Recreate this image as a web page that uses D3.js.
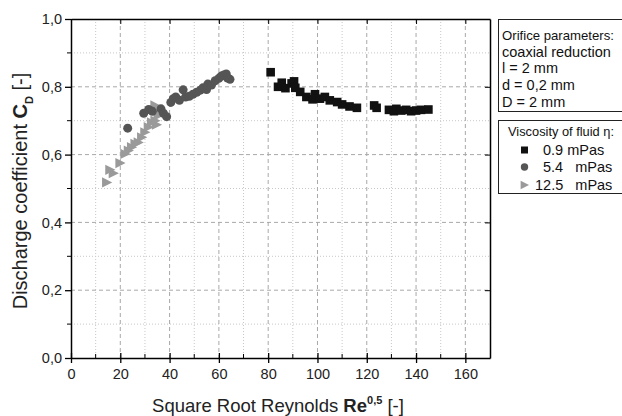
<!DOCTYPE html>
<html lang="en">
<head>
  <meta charset="UTF-8">
  <title>Discharge coefficient vs square root Reynolds</title>
  <style>
    body { margin: 0; background: #fff; font-family: "Liberation Sans", Arial, sans-serif; }
    .grid-major { stroke: #a8a8a8; stroke-dasharray: 4,3; }
    .grid-minor { stroke: #c8c8c8; stroke-dasharray: 1,2; }
    .tick-label { font-size: 14.5px; fill: #222; }
  </style>
</head>
<body>
  <svg width="622" height="416"></svg>
  <script src="https://d3js.org/d3.v7.min.js"></script>
  <script>
    // 0.9 mPas  [sqrt(Re), Cd]
    const water = [
      [81, 0.843], [84, 0.800], [85.5, 0.812], [87, 0.796], [89.5, 0.810], [90.5, 0.816],
      [91, 0.797], [93, 0.785], [95.5, 0.770], [98, 0.763], [99, 0.778], [101, 0.765],
      [103, 0.770], [105, 0.760], [108, 0.755], [110, 0.748], [113, 0.742], [116, 0.738],
      [123, 0.745], [124, 0.738], [129, 0.732], [131, 0.728], [132, 0.735], [134, 0.730],
      [136, 0.732], [138, 0.728], [140, 0.730], [142, 0.732], [145, 0.733]
    ];
    // 5.4 mPas
    const mid = [
      [23, 0.678], [29.5, 0.722], [31.5, 0.733], [33, 0.728], [36.5, 0.735], [37.5, 0.722],
      [38.8, 0.712], [40.5, 0.754], [41.5, 0.765], [42.5, 0.770], [44, 0.760], [45.5, 0.791],
      [46.5, 0.770], [48, 0.772], [49.5, 0.778], [51, 0.784], [52.5, 0.790], [53.5, 0.797],
      [55, 0.792], [55.5, 0.808], [57, 0.805], [58.5, 0.818], [60, 0.825], [61, 0.832],
      [62, 0.835], [63, 0.838], [63.5, 0.826], [64.5, 0.822]
    ];
    // 12.5 mPas
    const thick = [
      [14.5, 0.518], [15.8, 0.555], [17.2, 0.545], [19.9, 0.575], [21.9, 0.602], [23.3, 0.612],
      [24.6, 0.622], [26, 0.632], [27.3, 0.636], [28.7, 0.651], [30, 0.666], [31.4, 0.681],
      [32.7, 0.695], [34.1, 0.700], [34.7, 0.688], [35.4, 0.715], [34.1, 0.745], [36.5, 0.730]
    ];

    const seriesNames = ["0.9 mPas", "5.4   mPas", "12.5   mPas"];
    const paramLines = ["Orifice parameters:", "coaxial reduction", "l = 2 mm", "d = 0,2 mm", "D = 2 mm"];
    const xTicks = [0, 20, 40, 60, 80, 100, 120, 140, 160];
    const yTicks = [0, 0.2, 0.4, 0.6, 0.8, 1.0];

    const pL = 71, pR = 490, pT = 19, pB = 358;
    const svg = d3.select("svg");

    const x = d3.scaleLinear().domain([0, 170]).range([pL, pR]);
    const y = d3.scaleLinear().domain([0, 1]).range([pB, pT]);

    const xMinor = d3.range(10, 170, 20);
    const yMinor = d3.range(0.1, 1, 0.2);

    // grid
    const grid = svg.append("g");
    grid.selectAll(".gx").data(xMinor).join("line").attr("class", "grid-minor")
      .attr("x1", d => x(d)).attr("x2", d => x(d)).attr("y1", pT).attr("y2", pB);
    grid.selectAll(".gy").data(yMinor).join("line").attr("class", "grid-minor")
      .attr("x1", pL).attr("x2", pR).attr("y1", d => y(d)).attr("y2", d => y(d));
    grid.selectAll(".gX").data(xTicks.slice(1)).join("line").attr("class", "grid-major")
      .attr("x1", d => x(d)).attr("x2", d => x(d)).attr("y1", pT).attr("y2", pB);
    grid.selectAll(".gY").data(yTicks.slice(1, -1)).join("line").attr("class", "grid-major")
      .attr("x1", pL).attr("x2", pR).attr("y1", d => y(d)).attr("y2", d => y(d));

    const fmt = d => d3.format(".1f")(d).replace(".", ",");

    // bottom axis, major ticks cross the line
    svg.append("g").attr("transform", `translate(0,${pB})`)
      .call(d3.axisBottom(x).tickValues(xTicks).tickSize(5).tickSizeOuter(0).tickPadding(6))
      .call(g => g.selectAll("text").attr("class", "tick-label"))
      .call(g => g.selectAll(".tick line").attr("y1", -5).attr("stroke-width", 1.3))
      .call(g => g.select(".domain").attr("stroke-width", 1.5));
    svg.append("g").selectAll("line").data(xMinor).join("line")
      .attr("x1", d => x(d)).attr("x2", d => x(d)).attr("y1", pB).attr("y2", pB - 4)
      .attr("stroke", "#000");

    // left axis
    svg.append("g").attr("transform", `translate(${pL},0)`)
      .call(d3.axisLeft(y).tickValues(yTicks).tickFormat(fmt).tickSize(6).tickSizeOuter(0).tickPadding(3))
      .call(g => g.selectAll("text").attr("class", "tick-label"))
      .call(g => g.selectAll(".tick line").attr("stroke-width", 1.3))
      .call(g => g.select(".domain").attr("stroke-width", 1.5));
    svg.append("g").selectAll("line").data(yMinor).join("line")
      .attr("x1", pL - 4).attr("x2", pL).attr("y1", d => y(d)).attr("y2", d => y(d))
      .attr("stroke", "#000");

    // top and right frame with inward ticks
    svg.append("g").attr("transform", `translate(0,${pT})`)
      .call(d3.axisTop(x).tickValues(xTicks).tickSize(-5).tickSizeOuter(0).tickFormat(""))
      .call(g => g.select(".domain").attr("stroke-width", 1.5));
    svg.append("g").attr("transform", `translate(${pR},0)`)
      .call(d3.axisRight(y).tickValues(yTicks).tickSize(-5).tickSizeOuter(0).tickFormat(""))
      .call(g => g.select(".domain").attr("stroke-width", 1.5));

    // markers
    const triRight = s => `M${-s * 0.55},${-s * 0.6}L${s * 0.65},0L${-s * 0.55},${s * 0.6}Z`;
    const marks = svg.append("g");
    marks.selectAll(".tri").data(thick).join("path")
      .attr("d", triRight(8.5)).attr("fill", "#9a9a9a")
      .attr("transform", d => `translate(${x(d[0])},${y(d[1])})`);
    marks.selectAll(".cir").data(mid).join("circle")
      .attr("cx", d => x(d[0])).attr("cy", d => y(d[1])).attr("r", 4.5).attr("fill", "#555");
    marks.selectAll(".sq").data(water).join("rect")
      .attr("x", d => x(d[0]) - 4.3).attr("y", d => y(d[1]) - 4.3)
      .attr("width", 8.6).attr("height", 8.6).attr("fill", "#111");

    // axis titles
    const xt = svg.append("text").attr("x", 278).attr("y", 412).attr("text-anchor", "middle")
      .attr("font-size", 18.5).attr("fill", "#222");
    xt.append("tspan").text("Square Root Reynolds  ");
    xt.append("tspan").attr("font-weight", "bold").text("Re");
    xt.append("tspan").attr("font-weight", "bold").attr("font-size", 11).attr("dy", -8).text("0,5");
    xt.append("tspan").attr("dy", 8).text(" [-]");

    const yt = svg.append("text").attr("transform", "translate(27,191) rotate(-90)")
      .attr("text-anchor", "middle").attr("font-size", 20).attr("fill", "#222");
    yt.append("tspan").text("Discharge coefficient ");
    yt.append("tspan").attr("font-weight", "bold").text("C");
    yt.append("tspan").attr("font-weight", "bold").attr("font-size", 11).attr("dy", 6).text("D");
    yt.append("tspan").attr("dy", -6).text(" [-]");

    // parameter box
    svg.append("rect").attr("x", 498.5).attr("y", 19.5).attr("width", 130).attr("height", 92)
      .attr("fill", "#fff").attr("stroke", "#222");
    svg.append("g").selectAll("text").data(paramLines).join("text")
      .attr("x", 502).attr("y", (d, i) => 40 + i * 16.7)
      .attr("font-size", 14.5).attr("fill", "#111").text(d => d)
      .filter((d, i) => i === 0).attr("font-size", 13.5).attr("textLength", 112).attr("lengthAdjust", "spacingAndGlyphs");

    // legend box
    svg.append("rect").attr("x", 498.5).attr("y", 120.5).attr("width", 130).attr("height", 73)
      .attr("fill", "#fff").attr("stroke", "#222");
    svg.append("text").attr("x", 508).attr("y", 136).attr("font-size", 13).attr("fill", "#111")
      .attr("textLength", 106).attr("lengthAdjust", "spacingAndGlyphs")
      .text("Viscosity of fluid η:");
    const legY = [150, 167, 185];
    const lg = svg.append("g");
    lg.append("rect").attr("x", 521).attr("y", legY[0] - 3.5).attr("width", 7).attr("height", 7).attr("fill", "#111");
    lg.append("circle").attr("cx", 524.5).attr("cy", legY[1]).attr("r", 3.7).attr("fill", "#555");
    lg.append("path").attr("d", triRight(7)).attr("fill", "#9a9a9a")
      .attr("transform", `translate(524.5,${legY[2]})`);
    lg.selectAll("text").data(seriesNames).join("text")
      .attr("x", (d, i) => i === 2 ? 535 : 543).attr("y", (d, i) => legY[i] + 5)
      .style("white-space", "pre")
      .attr("font-size", 14.5).attr("fill", "#111").text(d => d);
  </script>
</body>
</html>
